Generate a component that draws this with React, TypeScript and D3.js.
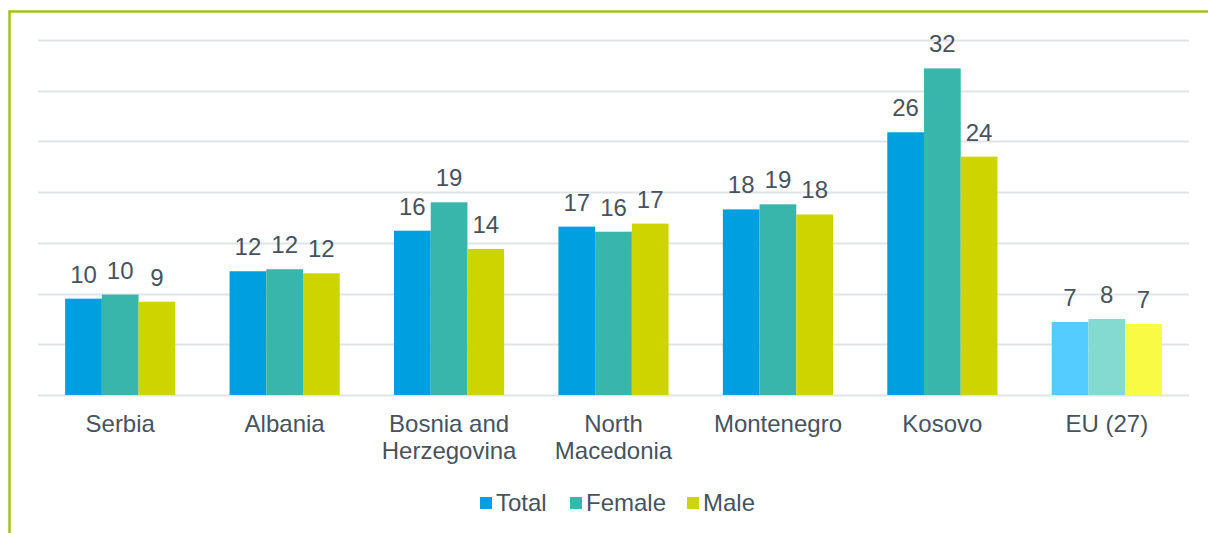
import React, { useRef, useEffect } from "react";
import * as d3 from "d3";

const categories = ["Serbia", "Albania", "Bosnia and\nHerzegovina", "North\nMacedonia", "Montenegro", "Kosovo", "EU (27)"];
const seriesNames = ["Total", "Female", "Male"];
const total = [9.5, 12.2, 16.2, 16.6, 18.3, 25.9, 7.2];
const female = [9.9, 12.4, 19.0, 16.1, 18.8, 32.2, 7.5];
const male = [9.2, 12.0, 14.4, 16.9, 17.8, 23.5, 7.0];
const gridTicks = [0, 5, 10, 15, 20, 25, 30, 35];

const colors = ["#009fdf", "#38b6ab", "#cdd500"];
const euColors = ["#55ccff", "#84d9d0", "#f7fb44"];
const textColor = "#46535f";

const App = () => {
  const svgRef = useRef<SVGSVGElement>(null);

  useEffect(() => {
    const svg = d3.select(svgRef.current);
    svg.selectAll("*").remove();

    const width = 1208;
    const height = 533;
    const left = 38;
    const right = 1189;
    const top = 40;
    const bottom = 395;
    const font = "'Liberation Sans', Arial, sans-serif";
    const fontSize = 24;

    const series = [total, female, male];

    const x0 = d3
      .scaleBand()
      .domain(categories)
      .range([left, right])
      .paddingInner(0.33)
      .paddingOuter(0.165);
    const x1 = d3.scaleBand().domain(seriesNames).range([0, x0.bandwidth()]);
    const y = d3.scaleLinear().domain([0, 35]).range([bottom, top]);

    svg.attr("width", width).attr("height", height);

    // frame
    svg
      .append("path")
      .attr("d", `M9.5,${height} L9.5,11.5 L${width},11.5`)
      .attr("fill", "none")
      .attr("stroke", "#9dc41a")
      .attr("stroke-width", 2.5);

    // grid
    svg
      .selectAll("line.grid")
      .data(gridTicks)
      .enter()
      .append("line")
      .attr("x1", left)
      .attr("x2", right)
      .attr("y1", (d) => Math.round(y(d)) + 0.5)
      .attr("y2", (d) => Math.round(y(d)) + 0.5)
      .attr("stroke", "#e0e4e6")
      .attr("stroke-width", 2);

    const groups = svg
      .selectAll("g.cat")
      .data(categories)
      .enter()
      .append("g")
      .attr("transform", (d) => `translate(${x0(d)},0)`);

    groups.each(function (cat, ci) {
      const g = d3.select(this);
      seriesNames.forEach((s, si) => {
        const v = series[si][ci];
        const isEU = ci === categories.length - 1;
        g.append("rect")
          .attr("x", x1(s)!)
          .attr("y", y(v))
          .attr("width", x1.bandwidth())
          .attr("height", y(0) - y(v))
          .attr("fill", isEU ? euColors[si] : colors[si]);
        g.append("text")
          .attr("x", x1(s)! + x1.bandwidth() / 2)
          .attr("y", y(v) - 16)
          .attr("text-anchor", "middle")
          .attr("font-family", font)
          .attr("font-size", fontSize)
          .attr("fill", textColor)
          .text(Math.round(v));
      });
      const lines = cat.split("\n");
      const t = g
        .append("text")
        .attr("text-anchor", "middle")
        .attr("font-family", font)
        .attr("font-size", fontSize)
        .attr("fill", textColor);
      lines.forEach((line, li) => {
        t.append("tspan")
          .attr("x", x0.bandwidth() / 2)
          .attr("y", 432 + li * 27)
          .text(line);
      });
    });

    // legend
    const legendX = [480, 570, 687];
    seriesNames.forEach((s, i) => {
      svg
        .append("rect")
        .attr("x", legendX[i])
        .attr("y", 497)
        .attr("width", 12)
        .attr("height", 12)
        .attr("fill", colors[i]);
      svg
        .append("text")
        .attr("x", legendX[i] + 16)
        .attr("y", 511)
        .attr("font-family", font)
        .attr("font-size", fontSize)
        .attr("fill", textColor)
        .text(s);
    });
  }, []);

  return (
    <div style={{ position: "absolute", left: 0, top: 0, background: "#fff" }}>
      <svg ref={svgRef} style={{ display: "block" }}></svg>
    </div>
  );
};

export default App;
